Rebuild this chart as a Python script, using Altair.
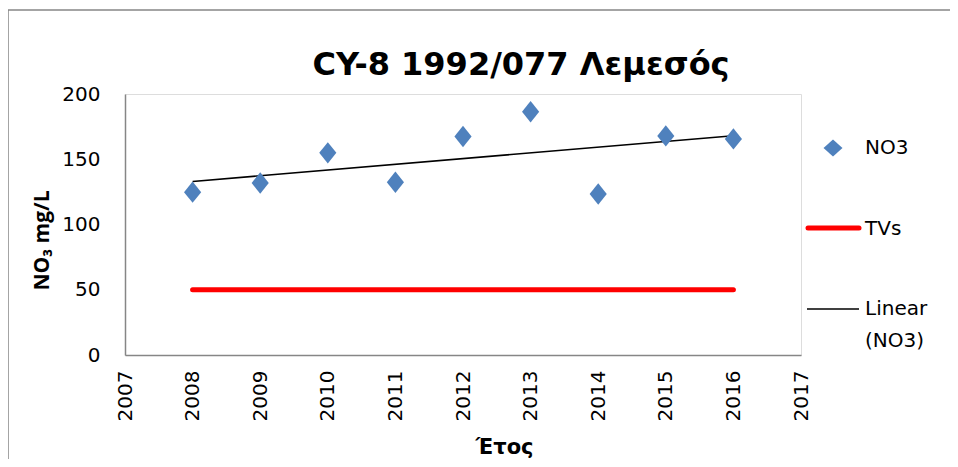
import altair as alt
import pandas as pd

# ---- data ----
years = [2008, 2009, 2010, 2011, 2012, 2013, 2014, 2015, 2016]
no3 = [124.8, 131.8, 154.9, 132.3, 167.4, 186.4, 123.3, 167.9, 165.6]
tvs = [50, 50, 50, 50, 50, 50, 50, 50, 50]
x_ticks = [2007, 2008, 2009, 2010, 2011, 2012, 2013, 2014, 2015, 2016, 2017]
y_ticks = [0, 50, 100, 150, 200]
legend_names = ["NO3", "TVs", "Linear\n(NO3)"]

title_text = "CY-8 1992/077 Λεμεσός"
y_title = "NO₃ mg/L"
x_title = "Έτος"

BLUE = "#4F81BD"
RED = "#FF0000"
AXIS = "#868686"
FONT = "DejaVu Sans"

df = pd.DataFrame({"year": years, "no3": no3, "tv": tvs})

W, H = 676, 261

x_enc = alt.X(
    "year:Q",
    scale=alt.Scale(domain=[2007, 2017], nice=False, zero=False),
    axis=alt.Axis(
        values=x_ticks, format="d", labelAngle=-90, labelPadding=15, ticks=False,
        grid=False, domainColor=AXIS, domainWidth=1.5, labelFontSize=20,
        labelFont=FONT, labelColor="black", title=x_title, titleFont=FONT,
        titleFontSize=21, titleFontWeight="bold", titleX=379, titleY=98,
        titleBaseline="alphabetic", titleAlign="center",
    ),
)
y_enc = alt.Y(
    "no3:Q",
    scale=alt.Scale(domain=[0, 200], nice=False),
    axis=alt.Axis(
        values=y_ticks, ticks=False, grid=False, domainColor=AXIS, domainWidth=1.5,
        labelFontSize=20, labelFont=FONT, labelColor="black", labelPadding=25,
        title=y_title, titleFont="Open Sans", titleFontSize=21, titleFontWeight="bold",
        titleX=-83, titleY=146, titleBaseline="middle", titleAlign="center",
        titleAngle=-90,
    ),
)

base = alt.Chart(df)

points = base.mark_point(
    shape="M0,-1L0.8,0L0,1L-0.8,0Z", filled=True, size=460, color=BLUE, opacity=1
).encode(x=x_enc, y=y_enc)

tv_line = base.mark_line(color=RED, strokeWidth=5, strokeCap="round").encode(
    x="year:Q", y="tv:Q"
)

trend = base.transform_regression("year", "no3", method="linear").mark_line(
    color="black", strokeWidth=1.6
).encode(x="year:Q", y="no3:Q")

# ---- legend and title drawn like the spreadsheet's ----
one = pd.DataFrame({"k": [0]})
lg = alt.Chart(one)
leg_sym = lg.mark_point(
    shape="M0,-0.9L1,0L0,0.9L-1,0Z", filled=True, size=361, color=BLUE, opacity=1
).encode(x=alt.value(708), y=alt.value(54))
leg_red = lg.mark_rule(color=RED, strokeWidth=5, strokeCap="round").encode(
    x=alt.value(683), x2=alt.value(734), y=alt.value(134)
)
leg_blk = lg.mark_rule(color="black", strokeWidth=1.6).encode(
    x=alt.value(682), x2=alt.value(734), y=alt.value(215)
)
leg_txt = []
for name, yy in zip(legend_names, [54, 135, 215]):
    leg_txt.append(
        lg.mark_text(
            align="left", baseline="middle",
            font=FONT, fontSize=20, color="black", lineBreak="\n", lineHeight=32,
        ).encode(
            x=alt.value(740),
            y=alt.value(yy),
            text=alt.value(name),
        )
    )

title_mark = lg.mark_text(
    align="center", baseline="alphabetic", font=FONT, fontSize=32,
    fontWeight="bold", color="black",
).encode(x=alt.value(396), y=alt.value(-19), text=alt.value(title_text))

border = lg.mark_rect(fillOpacity=0, stroke=AXIS, strokeWidth=1.5).encode(
    x=alt.value(-117), x2=alt.value(900), y=alt.value(-84), y2=alt.value(700)
)

chart = alt.layer(
    border, tv_line, trend, points, leg_sym, leg_red, leg_blk, *leg_txt, title_mark
).properties(
    width=W,
    height=H,
    autosize=alt.AutoSizeParams(type="none"),
    padding={"left": 117, "top": 86, "right": 149, "bottom": 104},
).configure_view(stroke=None).configure(background="white")

chart.save("out.html", embed_options={"renderer": "svg", "actions": False})
